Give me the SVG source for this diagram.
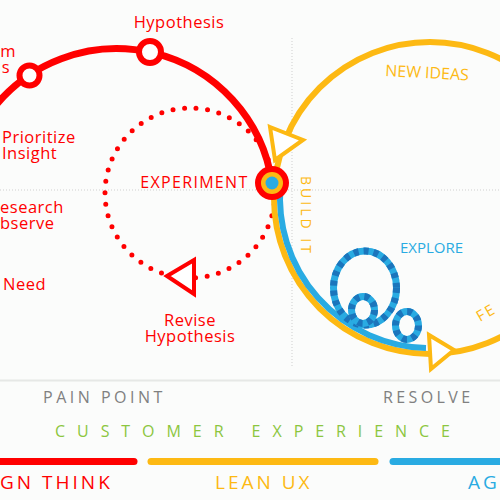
<svg xmlns="http://www.w3.org/2000/svg" width="500" height="500" viewBox="0 0 500 500">
<style>
.t{font-family:"Open Sans","Liberation Sans",sans-serif}
.lbl{font-size:16.5px;letter-spacing:0.5px}
.red{fill:#ff0000}
.yel{fill:#fdb913}
.blu{fill:#29abe2}
.gray{fill:#808080}
.grid{stroke:#cfcfcf;stroke-width:1;stroke-dasharray:1 2;fill:none}
.tri{stroke-width:4;fill:#ffffff;stroke-linejoin:miter}
.loop{fill:none;stroke:#29abe2;stroke-width:7}
.loopd{fill:none;stroke:#1b75bc;stroke-width:7;stroke-dasharray:5 5}
.bar{stroke-width:7;stroke-linecap:round}
</style>
<rect width="500" height="500" fill="#fbfcfb"/>
<g id="grid">
<line class="grid" x1="292" y1="38" x2="292" y2="368"/>
<line class="grid" x1="0" y1="190" x2="500" y2="190"/>
<line x1="0" y1="380.5" x2="500" y2="380.5" stroke="#e6e8e6" stroke-width="2"/>
</g>
<g id="connectors">
<circle cx="190" cy="193" r="85" fill="none" stroke="#ff0000" stroke-width="5" stroke-linecap="round" stroke-dasharray="0 11.6"/>
<path d="M -11.6 115 A 157 157 0 0 1 272 183" fill="none" stroke="#ff0000" stroke-width="7"/>
<circle cx="430" cy="198" r="156" fill="none" stroke="#fdb913" stroke-width="6"/>
<path d="M 280.6 184.9 A 150 150 0 0 0 426 348" fill="none" stroke="#29abe2" stroke-width="6"/>
<polygon class="tri" stroke="#fdb913" points="270,127 303,140 275,160"/>
<polygon class="tri" stroke="#fdb913" points="429,335 431,369 454,350"/>
<polygon class="tri" stroke="#ff0000" stroke-width="3.5" points="167,276 194,260 194,294"/>
</g>
<g id="explore-loops">
<ellipse class="loop" cx="365" cy="288" rx="31.5" ry="37"/>
<ellipse class="loopd" cx="365" cy="288" rx="31.5" ry="37"/>
<ellipse class="loop" cx="363" cy="310" rx="11.5" ry="13.5"/>
<ellipse class="loopd" cx="363" cy="310" rx="11.5" ry="13.5"/>
<ellipse class="loop" cx="407" cy="325.5" rx="11.5" ry="14"/>
<ellipse class="loopd" cx="407" cy="325.5" rx="11.5" ry="14"/>
</g>
<g id="node-hypothesis">
<circle cx="150" cy="52" r="11" fill="#ffffff" stroke="#ff0000" stroke-width="6"/>
<text class="t lbl red" x="179" y="28" text-anchor="middle">Hypothesis</text>
</g>
<g id="node-ideas">
<circle cx="29.5" cy="75.5" r="10" fill="#ffffff" stroke="#ff0000" stroke-width="6"/>
<text class="t lbl red" x="16" y="57" text-anchor="end">m</text>
<text class="t lbl red" x="10" y="73" text-anchor="end">s</text>
</g>
<g id="node-prioritize">
<text class="t lbl red" x="2" y="143">Prioritize</text>
<text class="t lbl red" x="2" y="159">Insight</text>
</g>
<g id="node-research">
<text class="t lbl red" x="0" y="213">esearch</text>
<text class="t lbl red" x="0" y="229">bserve</text>
</g>
<g id="node-need">
<text class="t lbl red" x="3" y="290">Need</text>
</g>
<g id="node-experiment">
<circle cx="272" cy="183" r="17" fill="#ff0000"/>
<circle cx="272" cy="183" r="11" fill="#fdb913"/>
<circle cx="272" cy="183" r="6.5" fill="#29abe2"/>
<text class="t red" x="248.5" y="188" font-size="16" letter-spacing="1.3" text-anchor="end">EXPERIMENT</text>
</g>
<g id="node-revise">
<text class="t lbl red" x="190" y="326" text-anchor="middle">Revise</text>
<text class="t lbl red" x="190" y="342" text-anchor="middle">Hypothesis</text>
</g>
<g id="labels-right">
<text class="t yel" x="385" y="76" font-size="16" transform="rotate(3 385 76)">NEW IDEAS</text>
<text class="t yel" x="301" y="176" font-size="14" letter-spacing="3" transform="rotate(90 301 176)">BUILD IT</text>
<text class="t blu" x="400" y="253" font-size="15">EXPLORE</text>
<text class="t yel" x="480" y="322" font-size="15" letter-spacing="2" transform="rotate(-30 480 322)">FE</text>
</g>
<g id="axis">
<text class="t gray" x="43" y="403" font-size="16" letter-spacing="3.5">PAIN POINT</text>
<text class="t gray" x="383" y="403" font-size="16" letter-spacing="3.4">RESOLVE</text>
<text class="t" fill="#8cc63f" x="55" y="437" font-size="16" textLength="395" lengthAdjust="spacing">CUSTOMER EXPERIENCE</text>
</g>
<g id="methods">
<line class="bar" stroke="#ff0000" x1="-10" y1="461.5" x2="134" y2="461.5"/>
<line class="bar" stroke="#fdb913" x1="151" y1="461.5" x2="375" y2="461.5"/>
<line class="bar" stroke="#29abe2" x1="393" y1="461.5" x2="510" y2="461.5"/>
<text class="t red" x="0" y="489" font-size="19" letter-spacing="3">GN THINK</text>
<text class="t yel" x="215" y="489" font-size="19" letter-spacing="3">LEAN UX</text>
<text class="t blu" x="468" y="489" font-size="19" letter-spacing="3">AG</text>
</g>
</svg>
